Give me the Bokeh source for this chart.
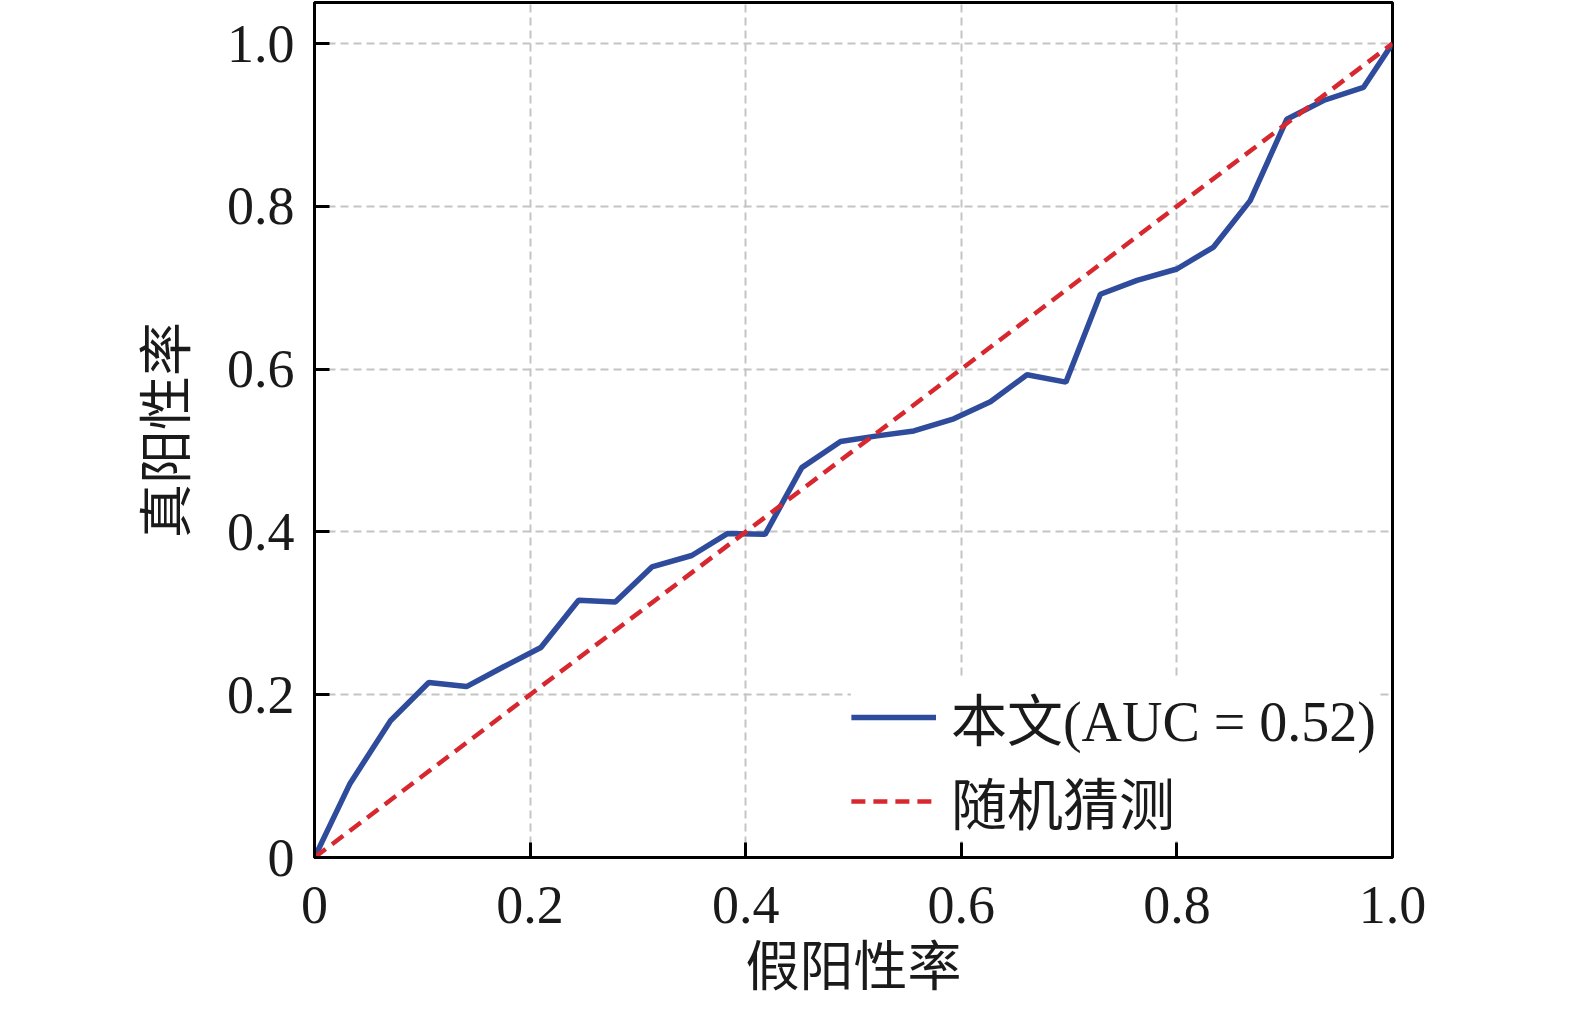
from bokeh.plotting import figure
from bokeh.models import Range1d, FixedTicker, CustomJSTickFormatter, Legend, LegendItem
from bokeh.embed import file_html
from bokeh.resources import INLINE

# ---- data ----
fpr = [0.0, 0.033, 0.0705, 0.106, 0.141, 0.175, 0.210, 0.245, 0.279, 0.313, 0.350,
       0.383, 0.418, 0.452, 0.488, 0.522, 0.556, 0.593, 0.627, 0.661, 0.697, 0.729,
       0.763, 0.800, 0.834, 0.868, 0.902, 0.936, 0.973, 1.0]
tpr = [0.0, 0.091, 0.168, 0.215, 0.210, 0.234, 0.258, 0.316, 0.314, 0.357, 0.371,
       0.398, 0.397, 0.479, 0.511, 0.518, 0.524, 0.539, 0.560, 0.593, 0.584, 0.692,
       0.709, 0.723, 0.750, 0.807, 0.907, 0.930, 0.946, 1.0]
chance_x = [0.0, 1.0]
chance_y = [0.0, 1.0]
ticks = [0.0, 0.2, 0.4, 0.6, 0.8, 1.0]
x_label = "假阳性率"
y_label = "真阳性率"
legend_labels = ["本文(AUC = 0.52)", "随机猜测"]

FONT = "'Liberation Serif', 'Times New Roman', 'Noto Sans CJK SC', serif"
FS = "54px"

p = figure(frame_width=1078, frame_height=855, output_backend="svg", toolbar_location=None,
           x_range=Range1d(0, 1.0), y_range=Range1d(0, 1.0504),
           min_border_left=314, min_border_right=182, min_border_top=2,
           min_border_bottom=150)
p.background_fill_color = "white"
p.border_fill_color = "white"
p.outline_line_color = "black"
p.outline_line_width = 3

for ax in (p.xaxis[0], p.yaxis[0]):
    ax.ticker = FixedTicker(ticks=ticks)
    ax.formatter = CustomJSTickFormatter(code="return tick == 0 ? '0' : tick.toFixed(1);")
    ax.axis_line_color = "black"
    ax.axis_line_width = 3
    ax.major_tick_in = 15
    ax.major_tick_out = 0
    ax.major_tick_line_width = 3
    ax.major_tick_line_color = "black"
    ax.minor_tick_line_color = None
    ax.major_label_text_font = FONT
    ax.major_label_text_font_size = FS
    ax.major_label_text_color = "#1a1a1a"
    ax.major_label_text_line_height = 0.6
    ax.axis_label_text_font = FONT
    ax.axis_label_text_font_size = FS
    ax.axis_label_text_font_style = "normal"
    ax.axis_label_text_color = "#1a1a1a"
    ax.axis_label_text_line_height = 0.6

p.xaxis.axis_label = x_label
p.yaxis.axis_label = y_label
p.xaxis.major_label_standoff = 29
p.yaxis.major_label_standoff = 20
p.xaxis.axis_label_standoff = 12
p.yaxis.axis_label_standoff = 26

for g in (p.xgrid[0], p.ygrid[0]):
    g.ticker = FixedTicker(ticks=ticks)
    g.grid_line_color = "#c4c4c4"
    g.grid_line_width = 2
    g.grid_line_dash = "8 5"

r1 = p.line(fpr, tpr, line_color="#2f4b9b", line_width=5.5)
r2 = p.line(chance_x, chance_y, line_color="#d7282f", line_width=4.5, line_dash="14 8")

legend = Legend(items=[LegendItem(label=legend_labels[0], renderers=[r1]),
                       LegendItem(label=legend_labels[1], renderers=[r2])],
                location="bottom_right")
legend.label_text_font = FONT
legend.label_text_font_size = "56px"
legend.label_text_color = "#1a1a1a"
legend.glyph_width = 85
legend.glyph_height = 40
legend.label_standoff = 15
legend.spacing = 3
legend.padding = 10
legend.margin = 16
legend.border_line_color = None
legend.background_fill_color = "white"
legend.background_fill_alpha = 1.0
p.add_layout(legend)

open("out.html", "w").write(file_html(p, INLINE))
